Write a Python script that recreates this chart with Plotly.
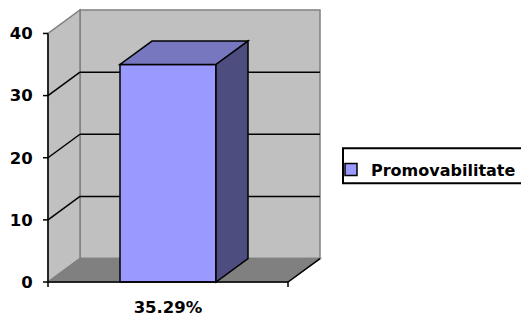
import plotly.graph_objects as go

# ---- data ----
categories = ["35.29%"]
values = [35]
series_name = "Promovabilitate"
y_ticks = [0, 10, 20, 30, 40]
y_max = 40

# ---- styles / geometry (pixels) ----
W, H = 521, 314
PX_X = 240.0          # px per x unit (front plane width)
PX_Y = 249.0 / y_max  # px per y unit
DEPTH_PX_X = 32.0
DEPTH_PX_Y = 23.5
PAD_L, PAD_R, PAD_T, PAD_B = 6.0, 3.0, 3.0, 7.0
FRONT_LEFT_PX = 48.0
ZERO_PX = 282.0
BAR_W = 0.4

dx = DEPTH_PX_X / PX_X
dy = DEPTH_PX_Y / PX_Y
x0f, x1f = -0.5, 0.5
xmin = x0f - PAD_L / PX_X
xmax = x1f + dx + PAD_R / PX_X
ymin = -PAD_B / PX_Y
ymax = y_max + dy + PAD_T / PX_Y

ml = FRONT_LEFT_PX - PAD_L
pw = (xmax - xmin) * PX_X
mr = W - ml - pw
ph = (ymax - ymin) * PX_Y
mb = H - (ZERO_PX + PAD_B)
mt = H - mb - ph

WALL = "#C0C0C0"
FLOOR = "#808080"
EDGE = "#808080"
FRONT = "#9999FF"
TOP = "#7777C0"
SIDE = "#4D4D80"
FONT = "DejaVu Sans"
FS = 16.5
FS_LEG = 16

# legend frame (pixels)
LEG_L, LEG_T, LEG_B = 343.0, 148.0, 183.0

def poly(pts):
    return "M " + " L ".join(f"{x},{y}" for x, y in pts) + " Z"

def px_to_paper_x(p):
    return (p - ml) / pw

def px_to_paper_y(p):
    return (H - mb - p) / ph

shapes = []
# back wall
shapes.append(dict(type="path", path=poly([(x0f + dx, dy), (x1f + dx, dy), (x1f + dx, y_max + dy), (x0f + dx, y_max + dy)]),
                   fillcolor=WALL, line=dict(color=EDGE, width=1.5), layer="below"))
# side wall
shapes.append(dict(type="path", path=poly([(x0f, 0), (x0f, y_max), (x0f + dx, y_max + dy), (x0f + dx, dy)]),
                   fillcolor=WALL, line=dict(color=EDGE, width=1.5), layer="below"))
# floor
shapes.append(dict(type="path", path=poly([(x0f, 0), (x1f, 0), (x1f + dx, dy), (x0f + dx, dy)]),
                   fillcolor=FLOOR, line=dict(color=EDGE, width=1.5), layer="below"))
# floor right edge (black)
shapes.append(dict(type="line", x0=x1f, y0=0, x1=x1f + dx, y1=dy, line=dict(color="black", width=1.5), layer="below"))
# gridlines on back wall and side wall
for v in y_ticks[1:-1]:
    shapes.append(dict(type="line", x0=x0f + dx, y0=v + dy, x1=x1f + dx, y1=v + dy,
                       line=dict(color="black", width=1.5), layer="below"))
    shapes.append(dict(type="line", x0=x0f, y0=v, x1=x0f + dx, y1=v + dy,
                       line=dict(color="black", width=1.5), layer="below"))
# y axis line and ticks
shapes.append(dict(type="line", x0=x0f, y0=0, x1=x0f, y1=y_max, line=dict(color="black", width=1.5), layer="above"))
for v in y_ticks:
    shapes.append(dict(type="line", x0=x0f - 5 / PX_X, y0=v, x1=x0f, y1=v, line=dict(color="black", width=1.5), layer="above"))
# x axis line and end ticks
shapes.append(dict(type="line", x0=x0f, y0=0, x1=x1f, y1=0, line=dict(color="black", width=1.5), layer="above"))
for xv in (x0f, x1f):
    shapes.append(dict(type="line", x0=xv, y0=0, x1=xv, y1=-5 / PX_Y, line=dict(color="black", width=1.5), layer="above"))

# bar 3D faces
for i, v in enumerate(values):
    bx0, bx1 = i - BAR_W / 2, i + BAR_W / 2
    shapes.append(dict(type="path", path=poly([(bx0, v), (bx1, v), (bx1 + dx, v + dy), (bx0 + dx, v + dy)]),
                       fillcolor=TOP, line=dict(color="black", width=1.5), layer="above"))
    shapes.append(dict(type="path", path=poly([(bx1, 0), (bx1, v), (bx1 + dx, v + dy), (bx1 + dx, dy)]),
                       fillcolor=SIDE, line=dict(color="black", width=1.5), layer="above"))

# legend frame (open on the right, runs off the edge like the reference)
shapes.append(dict(type="rect", xref="paper", yref="paper",
                   x0=px_to_paper_x(LEG_L), x1=px_to_paper_x(W + 10),
                   y0=px_to_paper_y(LEG_B), y1=px_to_paper_y(LEG_T),
                   line=dict(color="black", width=2), fillcolor="white", layer="below"))

fig = go.Figure()
fig.add_trace(go.Bar(
    x=list(range(len(categories))), y=values, width=BAR_W, name=series_name,
    marker=dict(color=FRONT, line=dict(color="black", width=1.5)),
    showlegend=True,
))

fig.update_layout(
    width=W, height=H,
    margin=dict(l=ml, r=mr, t=mt, b=mb, pad=0, autoexpand=False),
    paper_bgcolor="white", plot_bgcolor="rgba(0,0,0,0)",
    shapes=shapes,
    showlegend=True,
    legend=dict(
        x=px_to_paper_x(LEG_L - 12), y=px_to_paper_y((LEG_T + LEG_B) / 2 + 4), xanchor="left", yanchor="middle",
        borderwidth=0, bgcolor="rgba(0,0,0,0)",
        font=dict(family=FONT, size=FS_LEG, color="black", weight="bold"),
    ),
    xaxis=dict(
        range=[xmin, xmax], tickvals=list(range(len(categories))), ticktext=categories,
        showgrid=False, zeroline=False, showline=False,
        ticks="outside", ticklen=3, tickcolor="rgba(0,0,0,0)",
        tickfont=dict(family=FONT, size=FS, color="black", weight="bold"),
        fixedrange=True,
    ),
    yaxis=dict(
        range=[ymin, ymax], tickvals=y_ticks,
        showgrid=False, zeroline=False, showline=False,
        ticks="outside", ticklen=5, tickcolor="rgba(0,0,0,0)",
        tickfont=dict(family=FONT, size=FS, color="black", weight="bold"),
        fixedrange=True,
    ),
)

fig.write_html("out.html", post_script="document.body.style.margin='0';",
               config={"displayModeBar": False})
